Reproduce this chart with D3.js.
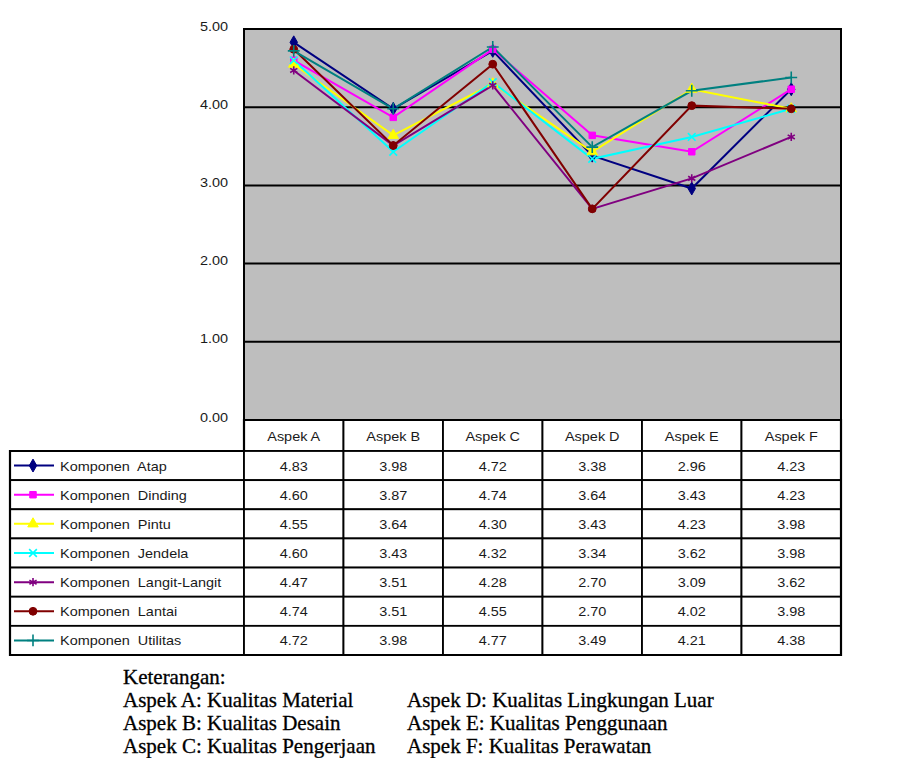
<!DOCTYPE html>
<html>
<head>
<meta charset="utf-8">
<script src="https://cdn.jsdelivr.net/npm/d3@7"></script>
<style>
  html, body { margin: 0; padding: 0; background: #ffffff; }
  svg { display: block; }
</style>
</head>
<body>
<svg id="chart" width="918" height="758"></svg>
<script>
// Categories (aspects) and series values per component
const aspects = ["Aspek A", "Aspek B", "Aspek C", "Aspek D", "Aspek E", "Aspek F"];
const seriesNames = [
  "Komponen  Atap", "Komponen  Dinding", "Komponen  Pintu", "Komponen  Jendela",
  "Komponen  Langit-Langit", "Komponen  Lantai", "Komponen  Utilitas"
];
const atap         = [4.83, 3.98, 4.72, 3.38, 2.96, 4.23];
const dinding      = [4.60, 3.87, 4.74, 3.64, 3.43, 4.23];
const pintu        = [4.55, 3.64, 4.30, 3.43, 4.23, 3.98];
const jendela      = [4.60, 3.43, 4.32, 3.34, 3.62, 3.98];
const langitLangit = [4.47, 3.51, 4.28, 2.70, 3.09, 3.62];
const lantai       = [4.74, 3.51, 4.55, 2.70, 4.02, 3.98];
const utilitas     = [4.72, 3.98, 4.77, 3.49, 4.21, 4.38];
const yTicks = [0, 1, 2, 3, 4, 5];
const notesTitle = "Keterangan:";
const notesLeft  = ["Aspek A: Kualitas Material", "Aspek B: Kualitas Desain", "Aspek C: Kualitas Pengerjaan"];
const notesRight = ["Aspek D: Kualitas Lingkungan Luar", "Aspek E: Kualitas Penggunaan", "Aspek F: Kualitas Perawatan"];

const seriesValues = [atap, dinding, pintu, jendela, langitLangit, lantai, utilitas];
const seriesColors = ["#000080", "#ff00ff", "#ffff00", "#00ffff", "#800080", "#800000", "#008080"];
const seriesSymbols = [
  { type: d3.symbolDiamond, size: 48, filled: true },
  { type: d3.symbolSquare, size: 42, filled: true },
  { type: d3.symbolTriangle, size: 48, filled: true },
  { type: d3.symbolX, size: 40, filled: false },
  { type: d3.symbolAsterisk, size: 48, filled: false },
  { type: d3.symbolCircle, size: 48, filled: true },
  { type: d3.symbolPlus, size: 48, filled: false }
];
const series = seriesNames.map((name, i) => ({
  name, values: seriesValues[i], color: seriesColors[i], symbol: seriesSymbols[i]
}));

const svg = d3.select("#chart");
const sans = "'Liberation Sans', Arial, sans-serif";
const serif = "'Liberation Serif', 'Times New Roman', serif";
const sansSize = 13.5, sansStretch = 1.07;
const serifSize = 20, serifStretch = 1.05;

// Text helper: places a label and widens its glyphs horizontally
function label(g, tx, ty, txt, opts) {
  const o = Object.assign({ family: sans, size: sansSize, stretch: sansStretch, anchor: "start", fill: "#1a1a1a" }, opts || {});
  return g.append("text")
    .attr("transform", `translate(${tx},${ty}) scale(${o.stretch},1)`)
    .attr("text-anchor", o.anchor)
    .attr("font-family", o.family).attr("font-size", o.size)
    .attr("fill", o.fill)
    .style("white-space", "pre")
    .text(txt);
}

const plotLeft = 244, plotRight = 841, plotTop = 29, plotBottom = 420;
const x = d3.scaleBand().domain(aspects).range([plotLeft, plotRight]).paddingInner(0).paddingOuter(0);
const xc = d => x(d) + x.bandwidth() / 2;
const y = d3.scaleLinear().domain([0, 5]).range([plotBottom, plotTop]);

// Plot background
svg.append("rect")
  .attr("x", plotLeft).attr("y", plotTop)
  .attr("width", plotRight - plotLeft).attr("height", plotBottom - plotTop)
  .attr("fill", "#bebebe");

// Gridlines
svg.append("g").selectAll("line")
  .data(yTicks.filter(t => t > 0 && t < 5))
  .join("line")
  .attr("x1", plotLeft).attr("x2", plotRight)
  .attr("y1", d => y(d)).attr("y2", d => y(d))
  .attr("stroke", "#000").attr("stroke-width", 2);

// Plot frame (top, left, right)
svg.append("path")
  .attr("d", `M${plotLeft},${plotBottom}V${plotTop}H${plotRight}V${plotBottom}`)
  .attr("fill", "none").attr("stroke", "#000").attr("stroke-width", 2);

// Y axis labels, positioned from the axis scale
const yAxis = d3.axisLeft(y).tickValues(yTicks).tickFormat(d3.format(".2f")).tickSize(0);
const yg = svg.append("g").attr("transform", `translate(${plotLeft},0)`).call(yAxis);
yg.select(".domain").remove();
yg.selectAll(".tick text").remove();
yg.selectAll(".tick").each(function (d) {
  label(d3.select(this), -16, 1, d3.format(".2f")(d), { anchor: "end" });
});

// Series lines and markers
const line = d3.line().x((d, i) => xc(aspects[i])).y(d => y(d));
const gSeries = svg.append("g");
series.forEach(s => {
  gSeries.append("path")
    .attr("d", line(s.values))
    .attr("fill", "none").attr("stroke", s.color).attr("stroke-width", 2);
});
function drawSymbol(g, s, cx, cy) {
  const sym = d3.symbol().type(s.symbol.type).size(s.symbol.size);
  g.append("path")
    .attr("transform", `translate(${cx},${cy})`)
    .attr("d", sym())
    .attr("fill", s.symbol.filled ? s.color : "none")
    .attr("stroke", s.color)
    .attr("stroke-width", s.symbol.filled ? 1 : 1.6);
}
series.forEach(s => {
  s.values.forEach((v, i) => drawSymbol(gSeries, s, xc(aspects[i]), y(v)));
});

// Data table
const headerTop = plotBottom, headerBottom = 451, tableBottom = 655;
const rowH = (tableBottom - headerBottom) / series.length;
const tableLeft = 10;
const table = svg.append("g");

// Header cells
aspects.forEach(a => {
  table.append("rect")
    .attr("x", x(a)).attr("y", headerTop)
    .attr("width", x.bandwidth()).attr("height", headerBottom - headerTop)
    .attr("fill", "#fff").attr("stroke", "#000").attr("stroke-width", 1.8);
  label(table, xc(a), (headerTop + headerBottom) / 2 + 5, a, { anchor: "middle" });
});

// Body rows
series.forEach((s, r) => {
  const top = headerBottom + r * rowH;
  const cy = top + rowH / 2;
  table.append("rect")
    .attr("x", tableLeft).attr("y", top)
    .attr("width", plotLeft - tableLeft).attr("height", rowH)
    .attr("fill", "#fff").attr("stroke", "#000").attr("stroke-width", 1.8);
  table.append("line")
    .attr("x1", 14).attr("x2", 54).attr("y1", cy).attr("y2", cy)
    .attr("stroke", s.color).attr("stroke-width", 2);
  drawSymbol(table, s, 33, cy);
  label(table, 60, cy + 5, s.name);
  aspects.forEach((a, i) => {
    table.append("rect")
      .attr("x", x(a)).attr("y", top)
      .attr("width", x.bandwidth()).attr("height", rowH)
      .attr("fill", "#fff").attr("stroke", "#000").attr("stroke-width", 1.8);
    label(table, xc(a), cy + 5, s.values[i].toFixed(2), { anchor: "middle" });
  });
});

// Outer table border
table.append("path")
  .attr("d", `M${tableLeft},${headerBottom}H${plotLeft}V${headerTop}H${plotRight}V${tableBottom}H${tableLeft}Z`)
  .attr("fill", "none").attr("stroke", "#000").attr("stroke-width", 2.2);

// Notes below the chart
const notes = svg.append("g");
const serifOpts = { family: serif, size: serifSize, stretch: serifStretch, fill: "#000" };
label(notes, 123, 684, notesTitle, serifOpts);
notesLeft.forEach((t, i) => label(notes, 123, 707 + i * 23, t, serifOpts));
notesRight.forEach((t, i) => label(notes, 407, 707 + i * 23, t, serifOpts));
notes.selectAll("text").attr("stroke", "#000").attr("stroke-width", 0.3);
</script>
</body>
</html>
